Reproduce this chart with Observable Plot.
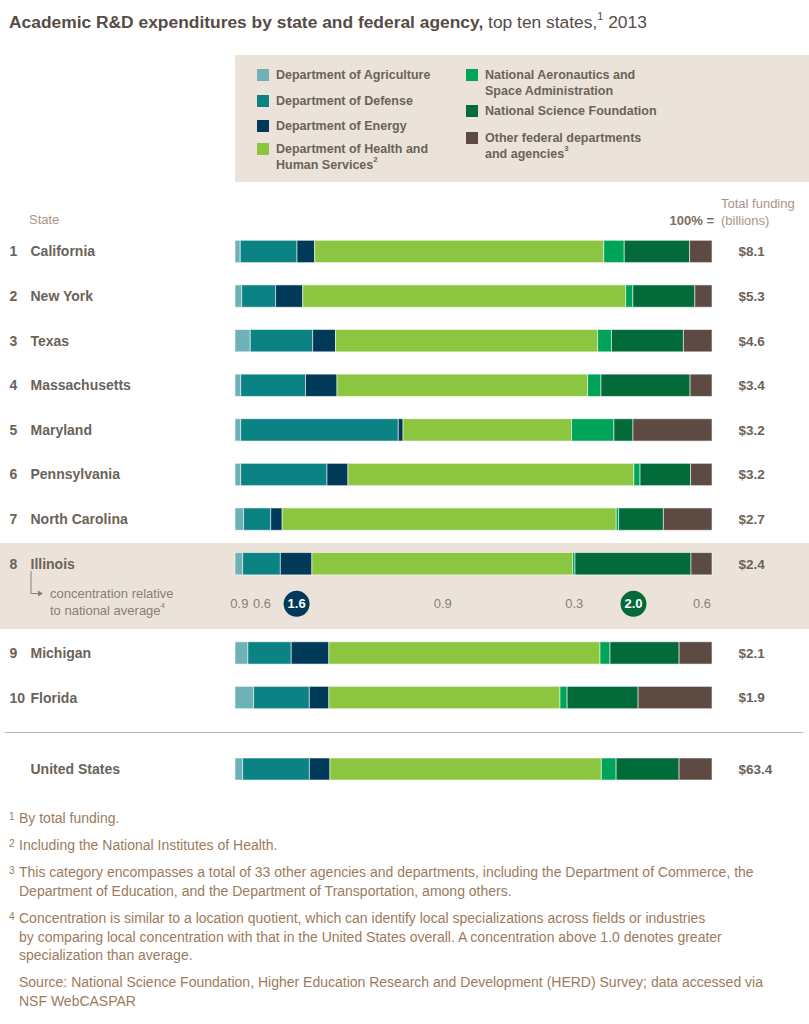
<!DOCTYPE html>
<html>
<head>
<meta charset="utf-8">
<script src="https://cdn.jsdelivr.net/npm/d3@7"></script>
<script src="https://cdn.jsdelivr.net/npm/@observablehq/plot@0.6"></script>
<style>
  body { margin: 0; background: #fff; font-family: "Liberation Sans", Arial, Helvetica, sans-serif; }
  #page { position: relative; width: 809px; height: 1024px; overflow: hidden; background: #fff; }
  .abs { position: absolute; white-space: nowrap; }
  #title { left: 9px; top: 12px; font-size: 17.4px; line-height: 20px; color: #564c46; }
  #title b { font-weight: bold; }
  sup { font-size: 0.62em; line-height: 0; position: relative; top: -0.15em; vertical-align: super; }
  #legendBox { left: 235px; top: 55px; width: 574px; height: 127px; background: #ebe3da; }
  .lg { font-size: 12.5px; font-weight: bold; color: #6b6259; line-height: 15.5px; }
  .sw { position: absolute; width: 12px; height: 12px; }
  .hdr { font-size: 13px; color: #a8968a; line-height: 16px; }
  #ilBand { left: 0; top: 543px; width: 809px; height: 86px; background: #ebe3da; }
  .conc { font-size: 13px; color: #8a7e74; line-height: 17px; }
  #sep { left: 5px; top: 732px; width: 798px; height: 1px; background: #c9b1a8; }
  .fn { font-size: 14px; color: #9b7b5c; line-height: 18.5px; }
  .fnn { font-size: 10px; color: #9b7b5c; }
  #chart { position: absolute; left: 0; top: 200px; }
  #usChart { position: absolute; left: 0; top: 747px; }
</style>
</head>
<body>
<div id="page">
  <div id="title" class="abs"><b>Academic R&amp;D expenditures by state and federal agency,</b> top ten states,<sup>1</sup> 2013</div>
  <div id="legendBox" class="abs"></div>
  <div id="legend"></div>
  <div class="abs hdr" style="left:29px; top:212px;">State</div>
  <div class="abs hdr" style="left:721px; top:196px;">Total funding</div>
  <div class="abs hdr" style="left:721px; top:213px;">(billions)</div>
  <div class="abs hdr" style="right:95px; top:213px; font-weight:bold; color:#7a6e66;">100% =</div>
  <div id="ilBand" class="abs"></div>
  <svg class="abs" style="left:0; top:0;" width="60" height="620" viewBox="0 0 60 620">
    <polyline points="31,571 31,593.5 38,593.5" fill="none" stroke="#8a7e74" stroke-width="1"/>
    <polygon points="38,590.5 43,593.5 38,596.5" fill="#8a7e74"/>
  </svg>
  <div class="abs conc" style="left:50px; top:585px;">concentration relative</div>
  <div class="abs conc" style="left:50px; top:602px;">to national average<sup>4</sup></div>
  <div id="chart"></div>
  <div id="sep" class="abs"></div>
  <div id="usChart"></div>
  <div id="footnotes"></div>
</div>
<script>
// ---- data ----
const agencies = [
  "Department of Agriculture",
  "Department of Defense",
  "Department of Energy",
  "Department of Health and Human Services",
  "National Aeronautics and Space Administration",
  "National Science Foundation",
  "Other federal departments and agencies"
];
const agencyColors = ["#6fb1b6", "#0b8283", "#013a58", "#8cc540", "#00a459", "#036a3a", "#5c4a43"];

const states = ["California", "New York", "Texas", "Massachusetts", "Maryland", "Pennsylvania",
  "North Carolina", "Illinois", "Michigan", "Florida"];
const totals = ["$8.1", "$5.3", "$4.6", "$3.4", "$3.2", "$3.2", "$2.7", "$2.4", "$2.1", "$1.9"];

// share of state's federal academic R&D (%), per agency
const agriculture = [1.1, 1.4, 3.2, 1.2, 1.2, 1.2, 1.8, 1.6, 2.7, 3.9];
const defense     = [11.9, 7.1, 13.1, 13.6, 33.1, 18.1, 5.7, 7.9, 9.1, 11.7];
const energy      = [3.7, 5.7, 4.8, 6.6, 1.0, 4.4, 2.4, 6.6, 7.9, 4.1];
const hhs         = [60.6, 67.7, 55.0, 52.6, 35.4, 60.0, 70.1, 54.6, 56.9, 48.5];
const nasa        = [4.3, 1.5, 2.9, 2.8, 8.9, 1.3, 0.5, 0.5, 2.1, 1.5];
const nsf         = [13.7, 13.0, 15.1, 18.7, 4.0, 10.6, 9.4, 24.3, 14.5, 14.9];
const other       = [4.7, 3.6, 6.0, 4.6, 16.6, 4.5, 10.2, 4.4, 6.9, 15.5];

const usLabel = "United States";
const usShares = [1.6, 14.0, 4.3, 56.9, 3.1, 13.2, 6.9];
const usTotal = "$63.4";

const concentrationState = "Illinois";
const illinoisConcentration = [0.9, 0.6, 1.6, 0.9, 0.3, 2.0, 0.6];

// ---- build tables ----
const series = [agriculture, defense, energy, hhs, nasa, nsf, other];
const rows = [];
states.forEach((s, i) => agencies.forEach((a, j) => rows.push({state: s, agency: a, value: series[j][i]})));
const usRows = agencies.map((a, j) => ({state: usLabel, agency: a, value: usShares[j]}));

const ilIndex = states.indexOf(concentrationState);
const ilShares = series.map(arr => arr[ilIndex]);
const ilSum = d3.sum(ilShares);
const ilCum = d3.cumsum(ilShares);
const concSlot = "concentration";
const concRows = agencies.map((a, j) => ({
  agency: a, conc: illinoisConcentration[j], y: concSlot,
  mid: (ilCum[j] - ilShares[j] / 2) / ilSum
}));

const yDomain = [...states.slice(0, ilIndex + 1), concSlot, ...states.slice(ilIndex + 1)];

const font = "Liberation Sans, Arial, Helvetica, sans-serif";
const labelColor = "#6b6259";
const barStroke = {stroke: "white", strokeOpacity: 0.55, strokeWidth: 1};

const chart = Plot.plot({
  width: 809, height: 532,
  marginLeft: 235, marginRight: 97, marginTop: 18, marginBottom: 1,
  style: {background: "transparent", fontFamily: font, overflow: "visible"},
  x: {domain: [0, 1], axis: null},
  y: {domain: yDomain, padding: 0.5, round: false, axis: null},
  color: {domain: agencies, range: agencyColors},
  marks: [
    Plot.barX(rows, Plot.stackX({x: "value", y: "state", fill: "agency", offset: "normalize", ...barStroke})),
    Plot.text(states, {y: d => d, text: (d, i) => String(i + 1), frameAnchor: "left", dx: -226,
      textAnchor: "start", fontWeight: "bold", fontSize: 14, fill: labelColor}),
    Plot.text(states, {y: d => d, text: d => d, frameAnchor: "left", dx: -205,
      textAnchor: "start", fontWeight: "bold", fontSize: 14, fill: labelColor}),
    Plot.text(states, {y: d => d, text: (d, i) => totals[i], frameAnchor: "right", dx: 26,
      textAnchor: "start", fontWeight: "bold", fontSize: 13.5, fill: labelColor}),
    Plot.dot(concRows, {filter: d => d.conc > 1, x: "mid", y: "y", r: 13, fill: "agency", dy: -5}),
    Plot.text(concRows, {filter: d => d.conc <= 1, x: "mid", y: "y", text: d => d.conc.toFixed(1),
      fontSize: 13, fill: "#8a7e74", dy: -5}),
    Plot.text(concRows, {filter: d => d.conc > 1, x: "mid", y: "y", text: d => d.conc.toFixed(1),
      fontSize: 13, fontWeight: "bold", fill: "white", dy: -5})
  ]
});
document.getElementById("chart").appendChild(chart);

const usChart = Plot.plot({
  width: 809, height: 44,
  marginLeft: 235, marginRight: 97, marginTop: 0, marginBottom: 0,
  style: {background: "transparent", fontFamily: font, overflow: "visible"},
  x: {domain: [0, 1], axis: null},
  y: {domain: [usLabel], padding: 1 / 3, round: false, axis: null},
  color: {domain: agencies, range: agencyColors},
  marks: [
    Plot.barX(usRows, Plot.stackX({x: "value", y: "state", fill: "agency", offset: "normalize", ...barStroke})),
    Plot.text([usLabel], {y: d => d, text: d => d, frameAnchor: "left", dx: -205,
      textAnchor: "start", fontWeight: "bold", fontSize: 14, fill: labelColor}),
    Plot.text([usLabel], {y: d => d, text: [usTotal], frameAnchor: "right", dx: 26,
      textAnchor: "start", fontWeight: "bold", fontSize: 13.5, fill: labelColor})
  ]
});
document.getElementById("usChart").appendChild(usChart);

// ---- legend (HTML) ----
const legendLayout = [
  {left: 257, top: 68, lines: ["Department of Agriculture"]},
  {left: 257, top: 94, lines: ["Department of Defense"]},
  {left: 257, top: 119, lines: ["Department of Energy"]},
  {left: 257, top: 142, lines: ["Department of Health and", "Human Services<sup>2</sup>"]},
  {left: 466, top: 68, lines: ["National Aeronautics and", "Space Administration"]},
  {left: 466, top: 104, lines: ["National Science Foundation"]},
  {left: 466, top: 131, lines: ["Other federal departments", "and agencies<sup>3</sup>"]}
];
const legend = document.getElementById("legend");
legendLayout.forEach((L, j) => {
  const sw = document.createElement("div");
  sw.className = "sw";
  sw.style.left = L.left + "px";
  sw.style.top = (L.top + 1) + "px";
  sw.style.background = agencyColors[j];
  legend.appendChild(sw);
  const t = document.createElement("div");
  t.className = "abs lg";
  t.style.left = (L.left + 19) + "px";
  t.style.top = L.top + "px";
  t.innerHTML = L.lines.join("<br>");
  legend.appendChild(t);
});

// ---- footnotes ----
const footnotes = [
  {n: "1", top: 809, lines: ["By total funding."]},
  {n: "2", top: 836, lines: ["Including the National Institutes of Health."]},
  {n: "3", top: 863, lines: ["This category encompasses a total of 33 other agencies and departments, including the Department of Commerce, the",
    "Department of Education, and the Department of Transportation, among others."]},
  {n: "4", top: 909, lines: ["Concentration is similar to a location quotient, which can identify local specializations across fields or industries",
    "by comparing local concentration with that in the United States overall. A concentration above 1.0 denotes greater",
    "specialization than average."]},
  {n: "", top: 973, lines: ["Source: National Science Foundation, Higher Education Research and Development (HERD) Survey; data accessed via",
    "NSF WebCASPAR"]}
];
const fnDiv = document.getElementById("footnotes");
footnotes.forEach(f => {
  if (f.n) {
    const n = document.createElement("div");
    n.className = "abs fnn";
    n.style.left = "9px";
    n.style.top = (f.top + 2) + "px";
    n.textContent = f.n;
    fnDiv.appendChild(n);
  }
  const t = document.createElement("div");
  t.className = "abs fn";
  t.style.left = "19px";
  t.style.top = f.top + "px";
  t.innerHTML = f.lines.join("<br>");
  fnDiv.appendChild(t);
});
</script>
</body>
</html>
